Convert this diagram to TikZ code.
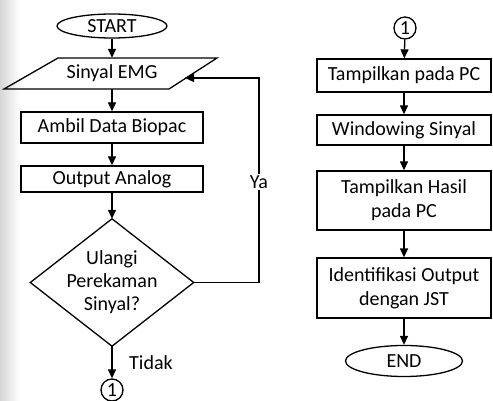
\documentclass[tikz,border=0pt]{standalone}
\usepackage{fontspec}
\setmainfont{Carlito}
\usetikzlibrary{arrows.meta,shapes.geometric,calc}
\begin{document}
\begin{tikzpicture}[x=1pt,y=-1pt,
  every node/.style={font=\fontsize{20}{24}\selectfont},
  box/.style={draw,line width=1.3pt,rectangle,inner sep=0pt,align=center},
  term/.style={draw,line width=1.3pt,ellipse,inner sep=0pt},
  conn/.style={draw,line width=1.3pt,circle,inner sep=0pt,minimum size=22pt},
  flow/.style={line width=1.3pt,-{Triangle[length=9pt,width=8pt]}},
  plain/.style={line width=1.3pt}
  ]
\useasboundingbox (0,0) rectangle (493,401);
\fill[left color=black!16, right color=white] (0,0) rectangle (20,401);

% left column
\node[term, minimum width=110pt, minimum height=24pt] (start) at (112,26) {START};
\node[minimum width=110pt, minimum height=31pt, inner sep=0pt] (sinyal) at (112,73.5) {Sinyal EMG};
\draw[plain] (4,89) -- (58,58) -- (217,58) -- (169,89) -- cycle;
\node[box, minimum width=182pt, minimum height=31pt] (ambil) at (112,127.5) {Ambil Data Biopac};
\node[box, minimum width=182pt, minimum height=26pt] (output) at (112,179) {Output Analog};
\node[minimum width=163pt, minimum height=127pt, inner sep=0pt, align=center,
      font=\fontsize{20}{23}\selectfont] (dec) at (112,282.5) {Ulangi\\Perekaman\\Sinyal?};
\draw[plain] (dec.north) -- (dec.east) -- (dec.south) -- (dec.west) -- cycle;
\node[conn] (c1a) at (112,390) {1};
\node (tidak) at (151,363) {Tidak};
\node[fill=white, inner sep=1.5pt] (ya) at (259,182) {Ya};
\coordinate (loopB) at (259,282.5);
\coordinate (loopT) at (259,78);
\coordinate (sinR) at (185,78);

\draw[flow] (start) -- (sinyal);
\draw[flow] (sinyal) -- (ambil);
\draw[flow] (ambil) -- (output);
\draw[flow] (output) -- (dec.north);
\draw[flow] (dec.south) -- (c1a);
\draw[plain] (dec.east) -- (loopB) -- (ya.south);
\draw[flow] (ya.north) -- (loopT) -- (sinR);

% right column
\node[conn] (c1b) at (405,28) {1};
\node[box, minimum width=174pt, minimum height=33pt] (t1) at (404,75.5) {Tampilkan pada PC};
\node[box, minimum width=174pt, minimum height=30pt] (win) at (404,130) {Windowing Sinyal};
\node[box, minimum width=174pt, minimum height=59pt] (hasil) at (404,200.5) {Tampilkan Hasil\\pada PC};
\node[box, minimum width=174pt, minimum height=60pt] (ident) at (404,288) {Identifikasi Output\\dengan JST};
\node[term, minimum width=117pt, minimum height=31pt] (end) at (404,361) {END};

\draw[flow] (c1b) -- (t1);
\draw[flow] (t1) -- (win);
\draw[flow] (win) -- (hasil);
\draw[flow] (hasil) -- (ident);
\draw[flow] (ident) -- (end);
\end{tikzpicture}
\end{document}
